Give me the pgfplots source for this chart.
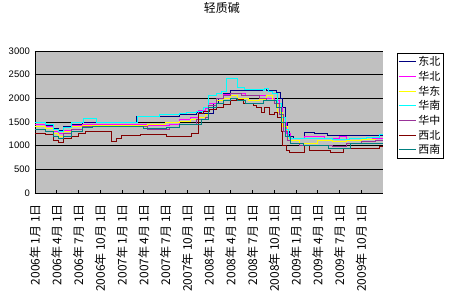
\documentclass[border=0pt]{standalone}
\usepackage{fontspec}
\setmainfont{Liberation Sans}
\newfontfamily\cjk{Noto Sans CJK SC}
\usepackage{pgfplots}
\pgfplotsset{compat=1.18}
\definecolor{cDB}{HTML}{000080}
\definecolor{cHB}{HTML}{FF00FF}
\definecolor{cHD}{HTML}{FFFF00}
\definecolor{cHN}{HTML}{00FFFF}
\definecolor{cHZ}{HTML}{993399}
\definecolor{cXB}{HTML}{800000}
\definecolor{cXN}{HTML}{008080}
\definecolor{bggray}{HTML}{C0C0C0}
\begin{document}
\begin{tikzpicture}
\useasboundingbox (0,0) rectangle (450bp,300bp);
\begin{axis}[
  at={(35bp,107bp)}, anchor=south west,
  scale only axis, width=348bp, height=142bp,
  xmin=0, xmax=48, ymin=0, ymax=3000,
  axis lines*=left,
  axis line style={black, line width=0.8bp, -},
  axis background/.style={fill=bggray},
  ymajorgrids, grid style={black, line width=0.9bp},
  ytick={0,500,...,3000},
  xtick={0,3,...,45},
  xticklabels={2006年 1月 1日,2006年 4月 1日,2006年 7月 1日,2006年 10月 1日,2007年 1月 1日,2007年 4月 1日,2007年 7月 1日,2007年 10月 1日,2008年 1月 1日,2008年 4月 1日,2008年 7月 1日,2008年 10月 1日,2009年 1月 1日,2009年 4月 1日,2009年 7月 1日,2009年 10月 1日},
  tick align=inside, major tick length=3bp,
  tick style={black, line width=0.6bp},
  /pgf/number format/assume math mode=true,
  /pgf/number format/1000 sep={},
  yticklabel style={font=\fontsize{9.5}{10}\selectfont, inner sep=1bp, xshift=-4bp},
  xticklabel style={font=\cjk\fontsize{12}{12}\selectfont, rotate=90, anchor=east, inner sep=0bp},
  xticklabel shift=11bp,
  title={\cjk 轻质碱},
  title style={font=\fontsize{12}{12}\selectfont, at={(0.537,1.26)}, anchor=center},
  legend style={at={(1.04,0.986)}, anchor=north west, draw=black, line width=0.8bp, fill=white,
    font=\cjk\fontsize{11}{11}\selectfont, row sep=0bp, inner sep=1bp},
  legend cell align=left,
  legend image code/.code={\draw[#1] (0bp,0bp) -- (17bp,0bp);},
]
% 东北
\addplot[color=cDB, const plot, line width=1bp] coordinates {
(0,1440) (1.5,1420) (2.5,1370) (3.2,1330) (4,1400) (5,1440) (6.5,1480) (14,1620) (20,1650) (22.3,1700) (23,1680) (24.6,1900) (25.3,2000) (26,2100) (26.9,2170) (31.7,2200) (31.9,2170) (33.3,2130) (33.8,2000) (34.1,1800) (34.5,1500) (34.8,1300) (35.1,1200) (35.6,1150) (37.2,1270) (38.6,1260) (40.4,1220) (48,1220)};
\addlegendentry{东北}
% 华北
\addplot[color=cHB, const plot, line width=1bp] coordinates {
(0,1450) (1.5,1400) (2.5,1300) (3.2,1250) (4,1330) (5,1420) (6.5,1450) (9,1440) (14,1450) (15.5,1420) (18.5,1450) (20,1550) (21.5,1600) (22.5,1750) (23.5,1780) (24,1900) (25,2000) (26,2080) (27,2100) (29,2050) (31,2050) (32,2000) (33,1950) (33.7,1800) (34.2,1500) (34.7,1250) (35.2,1150) (37.2,1200) (40,1150) (42,1200) (43,1100) (45,1120) (46.5,1150) (48,1150)};
\addlegendentry{华北}
% 华东
\addplot[color=cHD, const plot, line width=1bp] coordinates {
(0,1400) (1.5,1370) (2.5,1250) (3.2,1200) (4,1300) (5,1400) (6.5,1420) (14,1430) (15.5,1450) (18,1500) (20,1520) (21.5,1550) (22.5,1600) (23.5,1650) (24,1850) (25,1950) (26,2000) (27,2050) (28,2000) (29.5,1950) (31,1980) (32,2050) (32.8,1950) (33.5,1700) (34.2,1400) (34.8,1150) (35.3,1100) (36.5,1050) (39,1100) (41,1080) (43,1100) (45,1120) (47,1100) (48,1100)};
\addlegendentry{华东}
% 华南
\addplot[color=cHN, const plot, line width=1bp] coordinates {
(0,1480) (1.5,1450) (2.5,1350) (3.3,1300) (4,1380) (5,1500) (6.7,1565) (8.5,1500) (14.2,1610) (17.2,1650) (20,1680) (20.9,1700) (22.3,1730) (23.2,1800) (24,2050) (25,2100) (25.7,2150) (26.4,2410) (28,2220) (28.9,2180) (31.5,2160) (31.7,2200) (32.2,2150) (32.8,2100) (33.5,1900) (34,1600) (34.5,1350) (34.9,1200) (35.1,1150) (41.1,1120) (43.4,1150) (45.7,1180) (47.5,1230) (48,1230)};
\addlegendentry{华南}
% 华中
\addplot[color=cHZ, const plot, line width=1bp] coordinates {
(0,1350) (1.5,1300) (2.5,1200) (3.2,1150) (4,1250) (5,1350) (6.5,1400) (14,1400) (15.5,1350) (18.5,1380) (20,1450) (22.3,1550) (23.5,1600) (24,1850) (25,2000) (26,2050) (27,2100) (28.5,2050) (31,2000) (32,1950) (33,1900) (33.7,1650) (34.3,1300) (34.8,1100) (35.2,1050) (36.5,1000) (41,980) (43,1050) (45,1080) (47,1100) (48,1100)};
\addlegendentry{华中}
% 西北
\addplot[color=cXB, const plot, line width=1bp] coordinates {
(0,1260) (1.5,1230) (2.5,1100) (3.2,1070) (4,1150) (5,1200) (6,1250) (7,1300) (10.6,1090) (11.3,1150) (12,1210) (14.5,1235) (18.1,1195) (21.6,1250) (22.5,1680) (23.2,1720) (24.1,1760) (25,1800) (26,1880) (26.9,1950) (27.8,1975) (28.7,1900) (30.1,1850) (30.5,1800) (31.2,1700) (31.7,1800) (32.4,1650) (33.1,1700) (33.5,1600) (34,1300) (34.2,1000) (34.7,900) (35.1,865) (37,865) (37.2,1000) (37.9,900) (40.7,850) (42.5,950) (47.5,980) (48,980)};
\addlegendentry{西北}
% 西南
\addplot[color=cXN, const plot, line width=1bp] coordinates {
(0,1350) (1.5,1300) (2.5,1200) (3.2,1150) (4,1200) (5,1300) (6.5,1380) (8,1400) (14,1400) (15,1360) (18.1,1380) (20,1450) (23,1550) (24,1800) (25,1900) (26,1950) (27,2000) (28,1950) (29,1900) (31.5,1950) (32.5,1950) (33.3,1800) (34,1500) (34.5,1200) (35.2,1050) (37,1000) (40.5,950) (43.5,1050) (48,1050)};
\addlegendentry{西南}
\end{axis}
\end{tikzpicture}
\end{document}
